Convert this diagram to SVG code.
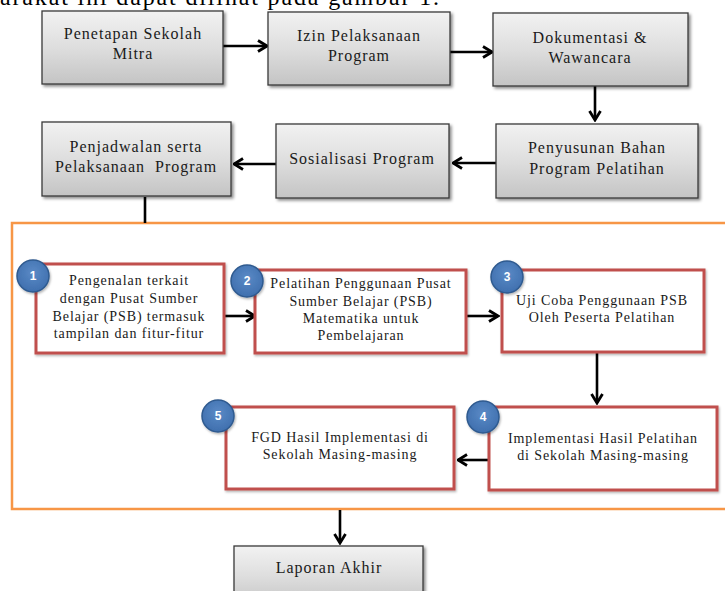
<svg xmlns="http://www.w3.org/2000/svg" width="725" height="591" viewBox="0 0 725 591">
<defs>
<linearGradient id="gg" x1="0" y1="0" x2="0" y2="1">
<stop offset="0" stop-color="#f2f2f2"/>
<stop offset="0.5" stop-color="#dedede"/>
<stop offset="1" stop-color="#c4c4c4"/>
</linearGradient>
<radialGradient id="bg" cx="0.5" cy="0.4" r="0.6">
<stop offset="0" stop-color="#5a8ac6"/>
<stop offset="1" stop-color="#3f6fae"/>
</radialGradient>
<filter id="sh" x="-10%" y="-10%" width="130%" height="140%">
<feDropShadow dx="2" dy="2" stdDeviation="1.5" flood-color="#000" flood-opacity="0.45"/>
</filter>
<filter id="sh2" x="-10%" y="-10%" width="130%" height="140%">
<feDropShadow dx="1" dy="1.5" stdDeviation="1" flood-color="#000" flood-opacity="0.3"/>
</filter>
<marker id="ah" markerUnits="userSpaceOnUse" viewBox="0 0 12 14" refX="10.5" refY="7" markerWidth="12" markerHeight="14" orient="auto">
<path d="M1.5,1.5 L10.5,7 L1.5,12.5" fill="none" stroke="#000" stroke-width="2.8" stroke-linejoin="miter"/>
</marker>
</defs>
<style>
.gbox{fill:url(#gg);stroke:#3a3a3a;stroke-width:1.3;filter:url(#sh)}
.rbox{fill:#fff;stroke:#c0504d;stroke-width:3;filter:url(#sh2)}
.gt{font-family:"Liberation Serif","Times New Roman",serif;font-size:16px;letter-spacing:1px;fill:#1a1a1a;text-anchor:middle}
.rt{font-family:"Liberation Serif","Times New Roman",serif;font-size:14px;letter-spacing:0.9px;fill:#1a1a1a;text-anchor:middle}
.circ{fill:url(#bg);stroke:#2f5a8f;stroke-width:1.5;filter:url(#sh2)}
.num{font-family:"Liberation Sans",Arial,sans-serif;font-size:12px;font-weight:bold;fill:#fff;text-anchor:middle}
.con{fill:none;stroke:#000;stroke-width:2.6}
.frame{fill:none;stroke:#f79646;stroke-width:2.5}
</style>
<text x="0" y="5" font-family="'Liberation Serif','Times New Roman',serif" font-size="24" fill="#000" textLength="439" lengthAdjust="spacing">arakat ini dapat dilihat pada gambar 1.</text>
<rect class="frame" x="12" y="223" width="720" height="286"/>
<g id="connectors">
<line class="con" x1="223" y1="46" x2="267" y2="46" marker-end="url(#ah)"/>
<line class="con" x1="450" y1="52" x2="492" y2="52" marker-end="url(#ah)"/>
<line class="con" x1="595" y1="86" x2="595" y2="120" marker-end="url(#ah)"/>
<line class="con" x1="496" y1="163" x2="453" y2="163" marker-end="url(#ah)"/>
<line class="con" x1="276" y1="164" x2="234" y2="164" marker-end="url(#ah)"/>
<line class="con" x1="145" y1="197" x2="145" y2="223"/>
<line class="con" x1="224" y1="316" x2="255" y2="316" marker-end="url(#ah)"/>
<line class="con" x1="466" y1="316" x2="498" y2="316" marker-end="url(#ah)"/>
<line class="con" x1="597" y1="353" x2="597" y2="403" marker-end="url(#ah)"/>
<line class="con" x1="489" y1="460" x2="458" y2="460" marker-end="url(#ah)"/>
<line class="con" x1="340" y1="510" x2="340" y2="543" marker-end="url(#ah)"/>
</g>
<g id="n-penetapan">
<rect class="gbox" x="42" y="11" width="181" height="73"/>
<text class="gt" x="133" y="39">Penetapan Sekolah</text>
<text class="gt" x="133" y="59">Mitra</text>
</g>
<g id="n-izin">
<rect class="gbox" x="268" y="12" width="182" height="73"/>
<text class="gt" x="359" y="41">Izin Pelaksanaan</text>
<text class="gt" x="359" y="61">Program</text>
</g>
<g id="n-dokumentasi">
<rect class="gbox" x="493" y="13" width="195" height="73"/>
<text class="gt" x="590" y="43">Dokumentasi &amp;</text>
<text class="gt" x="590" y="63">Wawancara</text>
</g>
<g id="n-penyusunan">
<rect class="gbox" x="496" y="124" width="202" height="74"/>
<text class="gt" x="597" y="153">Penyusunan Bahan</text>
<text class="gt" x="597" y="174">Program Pelatihan</text>
</g>
<g id="n-sosialisasi">
<rect class="gbox" x="276" y="124" width="173" height="74"/>
<text class="gt" x="362" y="164">Sosialisasi Program</text>
</g>
<g id="n-penjadwalan">
<rect class="gbox" x="42" y="122" width="189" height="74"/>
<text class="gt" x="136" y="152">Penjadwalan serta</text>
<text class="gt" x="136" y="172" xml:space="preserve">Pelaksanaan  Program</text>
</g>
<g id="n-1">
<rect class="rbox" x="36" y="264" width="188" height="89"/>
<text class="rt" x="129" y="285">Pengenalan terkait</text>
<text class="rt" x="129" y="303">dengan Pusat Sumber</text>
<text class="rt" x="129" y="321">Belajar (PSB) termasuk</text>
<text class="rt" x="129" y="338">tampilan dan fitur-fitur</text>
<circle class="circ" cx="33" cy="276" r="16"/>
<text class="num" x="33" y="280">1</text>
</g>
<g id="n-2">
<rect class="rbox" x="255" y="270" width="211" height="83"/>
<text class="rt" x="361" y="288">Pelatihan Penggunaan Pusat</text>
<text class="rt" x="361" y="306">Sumber Belajar (PSB)</text>
<text class="rt" x="361" y="323">Matematika untuk</text>
<text class="rt" x="361" y="340">Pembelajaran</text>
<circle class="circ" cx="247" cy="281" r="16"/>
<text class="num" x="247" y="285">2</text>
</g>
<g id="n-3">
<rect class="rbox" x="502" y="270" width="202" height="82"/>
<text class="rt" x="602" y="305">Uji Coba Penggunaan PSB</text>
<text class="rt" x="602" y="322">Oleh Peserta Pelatihan</text>
<circle class="circ" cx="507" cy="277" r="16"/>
<text class="num" x="507" y="281">3</text>
</g>
<g id="n-4">
<rect class="rbox" x="489" y="407" width="228" height="83"/>
<text class="rt" x="603" y="443">Implementasi Hasil Pelatihan</text>
<text class="rt" x="603" y="460">di Sekolah Masing-masing</text>
<circle class="circ" cx="483" cy="417" r="16"/>
<text class="num" x="483" y="421">4</text>
</g>
<g id="n-5">
<rect class="rbox" x="226" y="407" width="228" height="82"/>
<text class="rt" x="340" y="442">FGD Hasil Implementasi di</text>
<text class="rt" x="340" y="459">Sekolah Masing-masing</text>
<circle class="circ" cx="218" cy="416" r="16"/>
<text class="num" x="218" y="420">5</text>
</g>
<g id="n-laporan">
<rect class="gbox" x="234" y="546" width="189" height="60"/>
<text class="gt" x="329" y="573">Laporan Akhir</text>
</g>
</svg>
